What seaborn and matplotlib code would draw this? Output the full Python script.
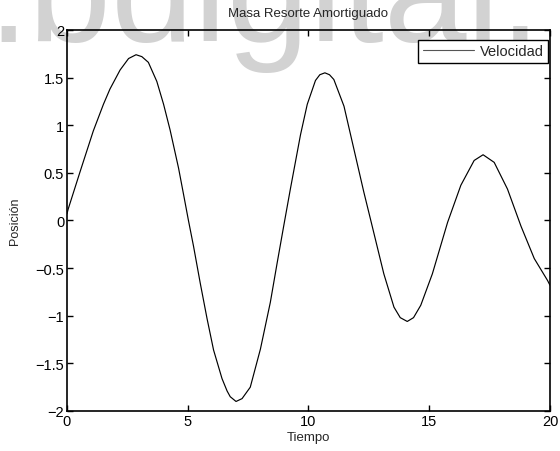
import matplotlib
matplotlib.use("Agg")
import matplotlib.pyplot as plt
import seaborn as sns
import pandas as pd

# ---- data ----
tiempo = [0, 0.05, 0.54, 1.09, 1.51, 1.78, 2.2, 2.55, 2.86, 3.1, 3.37, 3.72, 4.0,
          4.27, 4.62, 4.83, 5.03, 5.24, 5.52, 5.8, 6.07, 6.42, 6.63, 6.76, 7.0,
          7.25, 7.59, 8.01, 8.42, 8.7, 8.98, 9.25, 9.67, 9.95, 10.29, 10.47, 10.68,
          10.87, 11.05, 11.47, 11.88, 12.29, 12.6, 13.12, 13.54, 13.8, 14.09, 14.35,
          14.65, 15.13, 15.34, 15.76, 16.31, 16.86, 17.23, 17.69, 18.24, 18.8,
          19.35, 19.9, 20]
velocidad = [0.07, 0.12, 0.51, 0.94, 1.22, 1.38, 1.58, 1.70, 1.74, 1.72, 1.66, 1.46,
             1.22, 0.95, 0.55, 0.27, 0.0, -0.27, -0.66, -1.03, -1.36, -1.66, -1.79,
             -1.85, -1.9, -1.87, -1.75, -1.35, -0.86, -0.45, -0.05, 0.33, 0.9,
             1.22, 1.47, 1.53, 1.55, 1.53, 1.48, 1.2, 0.75, 0.3, -0.02, -0.56, -0.91,
             -1.02, -1.06, -1.02, -0.89, -0.56, -0.38, -0.02, 0.37, 0.63, 0.69, 0.61,
             0.33, -0.06, -0.4, -0.63, -0.68]
xticks = [0, 5, 10, 15, 20]
yticks = [-2, -1.5, -1, -0.5, 0, 0.5, 1, 1.5, 2]
ytick_labels = ["\u22122", "\u22121.5", "\u22121", "\u22120.5", "0", "0.5", "1", "1.5", "2"]
titulo = "Masa Resorte Amortiguado"
serie = "Velocidad"

sns.set_style("ticks")
plt.rcParams["font.family"] = ["Liberation Sans", "DejaVu Sans"]

df = pd.DataFrame({"Tiempo": tiempo, "Posición": velocidad, "serie": serie})

fig = plt.figure(figsize=(5.6, 4.52), dpi=100)
# watermark (behind everything)
fig.text(-0.023, 0.908, ".bdigital.", fontsize=107, color="#d2d2d2",
         ha="left", va="baseline", zorder=-10)
ax = fig.add_axes([0.1196, 0.0885, 0.8625, 0.843])
ax.patch.set_alpha(0)

sns.lineplot(data=df, x="Tiempo", y="Posición", hue="serie",
             palette=["black"], linewidth=0.85, ax=ax, sort=False)

ax.set_xlim(0, 20)
ax.set_ylim(-2, 2)
ax.set_xticks(xticks)
ax.set_xticklabels([str(v) for v in xticks])
ax.set_yticks(yticks)
ax.set_yticklabels(ytick_labels)
ax.tick_params(direction="in", length=4, width=1, top=True, right=True,
               labelsize=10.5, colors="black", pad=2)
for s in ax.spines.values():
    s.set_visible(True)
    s.set_color("black")
    s.set_linewidth(1.2)

ax.set_title(titulo, fontsize=9.5, pad=10)
ax.set_xlabel("Tiempo", fontsize=9.5, labelpad=2)
ax.set_ylabel("Posición", fontsize=9, labelpad=10)

leg = ax.legend(loc="upper right", bbox_to_anchor=(0.996, 0.974), fontsize=10.5,
                frameon=True, fancybox=False, handlelength=3.5, borderaxespad=0,
                borderpad=0.3, handletextpad=0.4, framealpha=1)
leg.get_frame().set_edgecolor("black")
leg.get_frame().set_linewidth(1.0)
leg.get_lines()[0].set_color("#555555")
leg.get_lines()[0].set_linewidth(0.8)

fig.savefig("out.png", dpi=100)
